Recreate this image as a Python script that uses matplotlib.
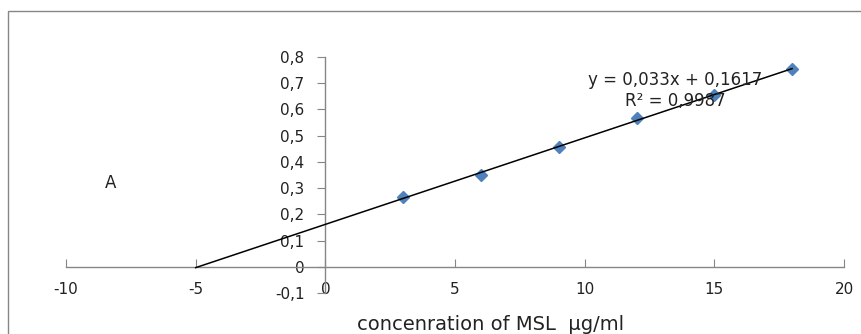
import matplotlib
matplotlib.use("Agg")
import matplotlib.pyplot as plt
import numpy as np
from matplotlib.patches import Rectangle

# ---- data ---------------------------------------------------------------
conc = [3, 6, 9, 12, 15, 18]                       # µg/ml
absorb = [0.267, 0.351, 0.455, 0.566, 0.655, 0.753]
slope, intercept, r2 = 0.033, 0.1617, 0.9987
trend_from = -5.0                                  # backward forecast start
x_ticks = [-10, -5, 0, 5, 10, 15, 20]
y_ticks = [-0.1, 0.0, 0.1, 0.2, 0.3, 0.4, 0.5, 0.6, 0.7, 0.8]
y_labels = ["-0,1", "0", "0,1", "0,2", "0,3", "0,4", "0,5", "0,6", "0,7", "0,8"]

plt.rcParams["font.family"] = ["DejaVu Sans"]
GREY = "#868686"
TXT = "#222222"

fig = plt.figure(figsize=(8.61, 3.34), dpi=100)
ax = fig.add_axes([66 / 861, 1 - 293 / 334, (844 - 66) / 861, (293 - 57) / 334])

# outer chart frame (runs off the image to the right and bottom)
fig.patches.append(Rectangle((8 / 861, -0.2), 2.0, 1.2 - 11 / 334,
                             transform=fig.transFigure, fill=False,
                             edgecolor=GREY, lw=1.0))

tx = np.array([trend_from, max(conc)])
ax.plot(tx, slope * tx + intercept, color="black", lw=1.1, zorder=3)
ax.plot(conc, absorb, "D", color="#4F81BD", markersize=6.5, zorder=2)

ax.set_xlim(-10, 20)
ax.set_ylim(-0.1, 0.8)
for s in ("top", "right"):
    ax.spines[s].set_visible(False)
ax.spines["left"].set_position(("data", 0))
ax.spines["bottom"].set_position(("data", 0))
for s in ("left", "bottom"):
    ax.spines[s].set_color(GREY)
    ax.spines[s].set_linewidth(1.0)

ax.set_xticks(x_ticks)
ax.set_xticklabels([str(t) for t in x_ticks])
ax.set_yticks(y_ticks)
ax.set_yticklabels(y_labels)
ax.tick_params(axis="x", direction="in", length=6, color=GREY, pad=11,
               labelsize=11, labelcolor=TXT)
ax.tick_params(axis="y", direction="out", length=6, color=GREY, pad=9,
               labelsize=11, labelcolor=TXT)

ax.text(13.5, 0.712, f"y = {slope:.3f}x + {intercept:.4f}".replace(".", ","),
        ha="center", va="center", fontsize=12, color=TXT)
ax.text(13.5, 0.632, f"R² = {r2:.4f}".replace(".", ","),
        ha="center", va="center", fontsize=12, color=TXT)
ax.text(-8.3, 0.32, "A", ha="center", va="center", fontsize=12, color=TXT)

fig.text(491 / 861, 1 - 325 / 334, "concenration of MSL  µg/ml",
         ha="center", va="center", fontsize=14, color=TXT)

fig.savefig("out.png", dpi=100)
